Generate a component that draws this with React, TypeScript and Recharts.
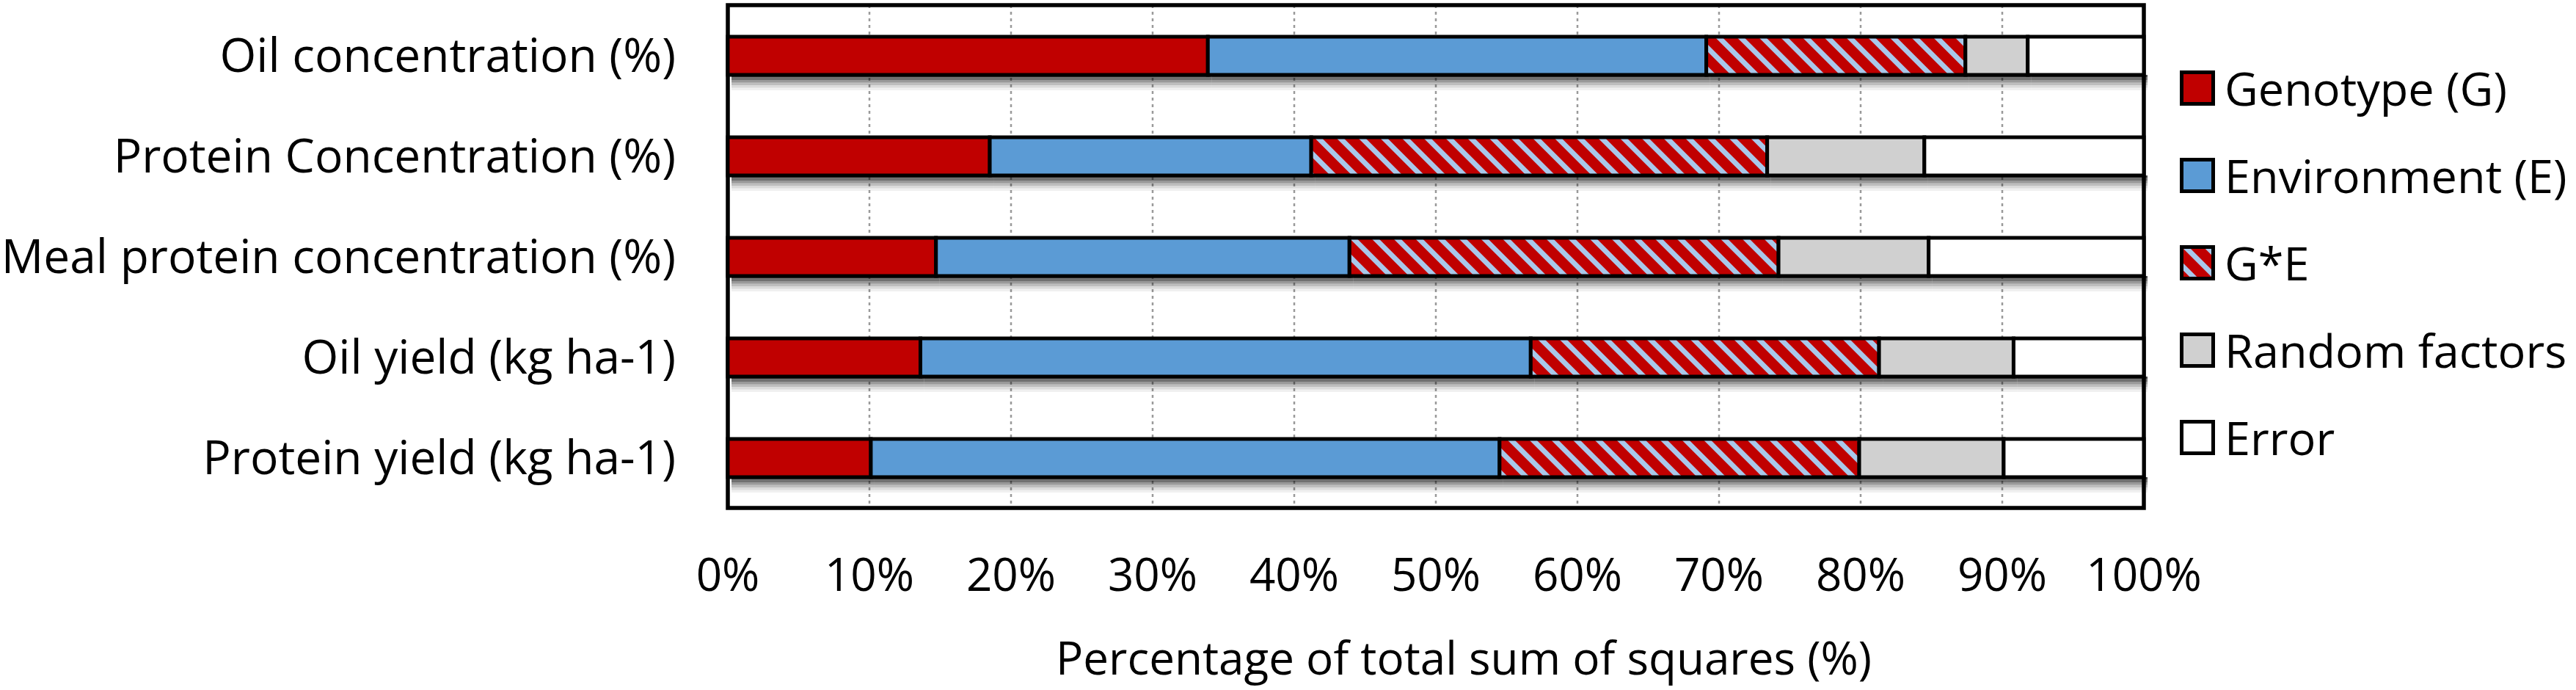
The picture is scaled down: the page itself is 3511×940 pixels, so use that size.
import React from 'react';
import {
  Bar,
  BarChart,
  CartesianGrid,
  Legend,
  ReferenceArea,
  XAxis,
  YAxis,
} from 'recharts';

// Share of total sum of squares (%) per trait
const traits = [
  'Oil concentration (%)',
  'Protein Concentration (%)',
  'Meal protein concentration (%)',
  'Oil yield (kg ha-1)',
  'Protein yield (kg ha-1)',
];
const genotype = [33.9, 18.5, 14.7, 13.6, 10.1];
const environment = [35.2, 22.7, 29.2, 43.1, 44.4];
const interaction = [18.3, 32.2, 30.3, 24.6, 25.4];
const randomFactors = [4.4, 11.1, 10.6, 9.5, 10.2];
const residual = [8.2, 15.5, 15.2, 9.2, 9.9];

const xTicks = [0, 10, 20, 30, 40, 50, 60, 70, 80, 90, 100];

const FONT = '"Open Sans", sans-serif';
const FONT_SIZE = 62;

const series = [
  { key: 'g', name: 'Genotype (G)', fill: '#C00000' },
  { key: 'e', name: 'Environment (E)', fill: '#5B9BD5' },
  { key: 'ge', name: 'G*E', fill: 'url(#gxeHatch)' },
  { key: 'rnd', name: 'Random factors', fill: '#D0D0D0' },
  { key: 'err', name: 'Error', fill: '#FFFFFF' },
];

const data = traits.map((name, i) => ({
  name,
  g: genotype[i],
  e: environment[i],
  ge: interaction[i],
  rnd: randomFactors[i],
  err: residual[i],
}));

// shadow strip under each bar: darkest just below the edge, fading out
const shadowSteps = [0.72, 0.56, 0.4, 0.26, 0.14, 0.06];

function HatchDefs() {
  return (
    <defs>
      <pattern
        id="gxeHatch"
        width="21"
        height="21"
        patternUnits="userSpaceOnUse"
        patternTransform="rotate(-45)"
      >
        <rect width="21" height="21" fill="#C00000" />
        <rect width="7" height="21" fill="#A9C8EA" />
      </pattern>
    </defs>
  );
}

// one stacked segment: shadow strip under it, then the outlined box
function Segment(props: any) {
  const x = Number(props.x);
  const y = Number(props.y);
  const width = Number(props.width);
  const height = Number(props.height);
  if (!(width > 0)) return null;
  const base = y + height;
  return (
    <g>
      {shadowSteps.map((op, i) => (
        <rect
          key={i}
          x={x + 5}
          y={base + i * 3.5}
          width={width}
          height={3.5}
          fill="#000"
          fillOpacity={op}
        />
      ))}
      <rect
        x={x}
        y={y}
        width={width}
        height={height}
        fill={props.fill}
        stroke="#000"
        strokeWidth={5}
      />
    </g>
  );
}

function LegendBox() {
  return (
    <div style={{ fontFamily: FONT, fontSize: 63, color: '#000' }}>
      {series.map((s) => (
        <div
          key={s.key}
          style={{ display: 'flex', alignItems: 'center', height: 119, lineHeight: 1 }}
        >
          <svg width={48} height={48} style={{ marginRight: 13, flex: 'none' }}>
            <defs>
              <pattern
                id="legendHatch"
                width="21"
                height="21"
                patternUnits="userSpaceOnUse"
                patternTransform="rotate(-45)"
              >
                <rect width="21" height="21" fill="#C00000" />
                <rect width="7" height="21" fill="#A9C8EA" />
              </pattern>
            </defs>
            <rect
              x={2.5}
              y={2.5}
              width={43}
              height={43}
              fill={s.key === 'ge' ? 'url(#legendHatch)' : s.fill}
              stroke="#000"
              strokeWidth={5}
            />
          </svg>
          <span style={{ whiteSpace: 'nowrap' }}>{s.name}</span>
        </div>
      ))}
    </div>
  );
}

export default function App() {
  return (
    <div style={{ position: 'absolute', left: 0, top: 0, background: '#fff' }}>
      <BarChart
        width={3511}
        height={940}
        data={data}
        layout="vertical"
        barSize={52}
        margin={{ top: 7, right: 589, left: 0, bottom: 0 }}
        style={{ fontFamily: FONT }}
      >
        <HatchDefs />
        <CartesianGrid
          horizontal={false}
          stroke="#9A9A9A"
          strokeWidth={2.5}
          strokeDasharray="4 5"
        />
        <XAxis
          type="number"
          domain={[0, 100]}
          ticks={xTicks}
          tickFormatter={(v) => `${v}%`}
          axisLine={false}
          tickLine={false}
          tickSize={0}
          tickMargin={69}
          height={248}
          tick={{ fill: '#000', fontSize: FONT_SIZE, fontFamily: FONT }}
          label={{
            value: 'Percentage of total sum of squares (%)',
            position: 'insideBottom',
            offset: 21,
            dx: 38,
            fill: '#000',
            fontSize: FONT_SIZE,
            fontFamily: FONT,
          }}
        />
        <YAxis
          type="category"
          dataKey="name"
          width={992}
          axisLine={false}
          tickLine={false}
          tickSize={0}
          tickMargin={71}
          tick={{ fill: '#000', fontSize: 64, fontFamily: FONT }}
        />
        {series.map((s) => (
          <Bar
            key={s.key}
            dataKey={s.key}
            name={s.name}
            stackId="ss"
            fill={s.fill}
            shape={(p: any) => <Segment {...p} />}
            isAnimationActive={false}
          />
        ))}
        <ReferenceArea
          x1={0}
          x2={100}
          fill="none"
          fillOpacity={0}
          stroke="#000"
          strokeWidth={5.5}
          ifOverflow="visible"
        />
        <Legend
          layout="vertical"
          align="center"
          verticalAlign="middle"
          wrapperStyle={{ left: 2971, top: 60, width: 540 }}
          content={() => <LegendBox />}
        />
      </BarChart>
    </div>
  );
}
